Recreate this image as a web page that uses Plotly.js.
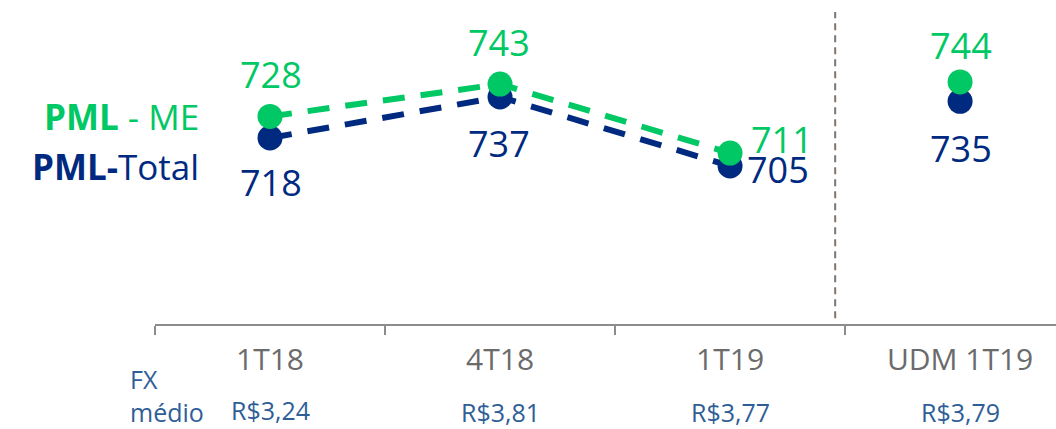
<!DOCTYPE html>
<html>
<head>
<meta charset="utf-8">
<script src="https://cdn.plot.ly/plotly-3.0.1.min.js"></script>
<style>html,body{margin:0;padding:0;background:#fff;}#chart{width:1056px;height:429px;}</style>
</head>
<body>
<div id="chart"></div>
<script>
const categories = ['1T18', '4T18', '1T19', 'UDM 1T19'];
const pmlME = [728, 743, 711, 744];
const pmlTotal = [718, 737, 705, 735];
const fxMedio = ['R$3,24', 'R$3,81', 'R$3,77', 'R$3,79'];
const seriesNames = ['PML - ME', 'PML-Total'];

const GREEN = '#00C864';
const NAVY = '#002A7F';
const FONT = '"Open Sans", "Noto Sans", sans-serif';
const nLine = 3; // quarterly points joined by the dashed line

const lineTrace = (vals, color) => ({
  x: categories.slice(0, nLine), y: vals.slice(0, nLine), type: 'scatter', mode: 'lines',
  line: {color: color, width: 6, dash: '22px,16px'}, hoverinfo: 'skip', showlegend: false
});
const markerTrace = (vals, color, name) => ({
  x: categories, y: vals, type: 'scatter', mode: 'markers', name: name,
  marker: {color: color, size: 25}, showlegend: false
});

const data = [
  lineTrace(pmlTotal, NAVY),
  lineTrace(pmlME, GREEN),
  markerTrace(pmlTotal, NAVY, seriesNames[1]),
  markerTrace(pmlME, GREEN, seriesNames[0])
];

// label offsets (px) relative to each point
const meOffsets = [[1, 42], [-1, 42], [52, 14], [1, 36]];
const totOffsets = [[1, -45], [-1, -46], [48, -4], [1, -47]];
const fxShifts = [-86, -88, -88, -88];

const annotations = [];
pmlME.forEach((v, i) => annotations.push({
  x: i, y: v, xref: 'x', yref: 'y', text: String(v), showarrow: false,
  xshift: meOffsets[i][0], yshift: meOffsets[i][1],
  font: {family: FONT, size: 36, color: GREEN}
}));
pmlTotal.forEach((v, i) => annotations.push({
  x: i, y: v, xref: 'x', yref: 'y', text: String(v), showarrow: false,
  xshift: totOffsets[i][0], yshift: totOffsets[i][1],
  font: {family: FONT, size: 36, color: NAVY}
}));
fxMedio.forEach((t, i) => annotations.push({
  x: i, y: 0, xref: 'x', yref: 'paper', text: t, showarrow: false,
  yanchor: 'middle', yshift: fxShifts[i], borderpad: 0,
  font: {family: FONT, size: 25, color: '#2F5E97'}
}));
annotations.push({
  xref: 'paper', yref: 'paper', x: 0, y: 0, xanchor: 'left', yanchor: 'middle',
  xshift: -26, yshift: -71, align: 'left', showarrow: false, borderpad: 0,
  text: 'FX<br>médio', font: {family: FONT, size: 25, color: '#2F5E97'}
});
// legend labels
annotations.push({
  xref: 'paper', yref: 'y', x: 0, y: pmlME[0], xanchor: 'right', yanchor: 'middle',
  xshift: 45, yshift: 0, showarrow: false, borderpad: 0,
  text: '<b>PML</b> - ME', font: {family: FONT, size: 35, color: GREEN}
});
annotations.push({
  xref: 'paper', yref: 'y', x: 0, y: pmlTotal[0], xanchor: 'right', yanchor: 'middle',
  xshift: 45, yshift: -29, showarrow: false, borderpad: 0,
  text: '<b>PML-</b>Total', font: {family: FONT, size: 35, color: NAVY}
});

const layout = {
  width: 1056, height: 429,
  margin: {l: 155, r: 0, t: 0, b: 105},
  paper_bgcolor: '#ffffff', plot_bgcolor: '#ffffff',
  showlegend: false,
  xaxis: {
    type: 'category', categoryarray: categories, range: [-0.5, 3.417],
    tickson: 'boundaries', ticks: 'outside', ticklen: 9, tickwidth: 2, tickcolor: '#8C8C8C',
    showline: true, linecolor: '#8C8C8C', linewidth: 2, showgrid: false, zeroline: false,
    tickfont: {family: FONT, size: 30, color: '#6B6B6B'}, ticklabelstandoff: 8,
    fixedrange: true
  },
  yaxis: {
    range: [631.7, 782], visible: false, showgrid: false, zeroline: false, fixedrange: true
  },
  shapes: [{
    type: 'line', xref: 'x', yref: 'paper', x0: 2.457, x1: 2.457, y0: 0.018, y1: 0.963,
    line: {color: '#7D756E', width: 2, dash: '7px,5px'}
  }],
  annotations: annotations
};

Plotly.newPlot('chart', data, layout, {displayModeBar: false, staticPlot: true});
</script>
</body>
</html>
